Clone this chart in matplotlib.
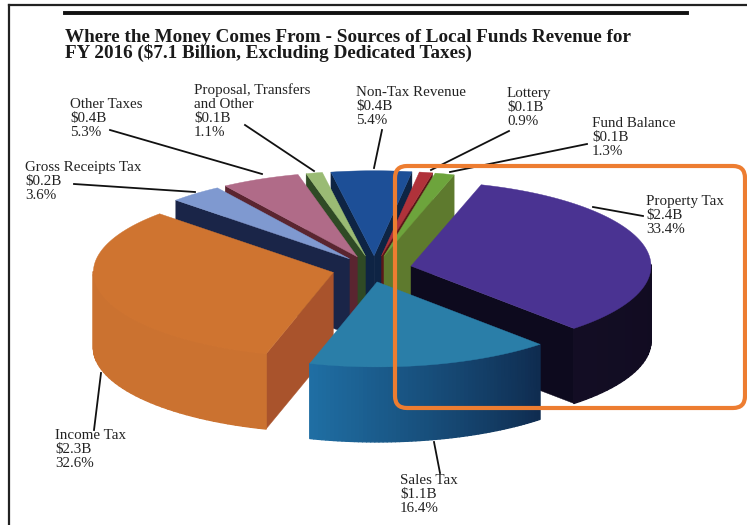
#!/usr/bin/env python3
# exploded pseudo-3D pie, everything in pixel coordinates of the 747x525 picture
import numpy as np
import matplotlib
matplotlib.use('Agg')
import matplotlib.pyplot as plt
from matplotlib.patches import Polygon, FancyBboxPatch

names = ['Property Tax', 'Sales Tax', 'Income Tax', 'Gross Receipts Tax', 'Other Taxes',
         'Proposal, Transfers\nand Other', 'Non-Tax Revenue', 'Lottery', 'Fund Balance']
billions = ['$2.4B', '$1.1B', '$2.3B', '$0.2B', '$0.4B', '$0.1B', '$0.4B', '$0.1B', '$0.1B']
percents = [33.4, 16.4, 32.6, 3.6, 5.3, 1.1, 5.4, 0.9, 1.3]

top_colors = ['#4a3392', '#2a7ea8', '#cf7430', '#7f99d0', '#b06b88', '#9abb74', '#1d4f97', '#b0323a', '#6da43c']
wall_left = ['#130d24', '#1f6ea3', '#cb7230', '#1a2548', '#5a2530', '#2f4a25', '#0e2444', '#5a1818', '#5e7a2e']
wall_right = ['#0e0a1c', '#0f2c50', '#cb7230', '#1a2548', '#5a2530', '#2f4a25', '#0e2444', '#5a1818', '#5e7a2e']
face_colors = ['#0d0a1e', '#12305a', '#a9532c', '#1a2548', '#5a2530', '#2f4a25', '#0e2444', '#5a1818', '#5e7a2e']
nudge_x = [1, -5, -4, 0, -1, 0, 1, 1, 1]  # slices are not quite where the scan's explode puts them

label_xy = [(646, 195), (400, 474), (55, 429), (25, 161), (70, 98),
            (194, 83), (356, 86), (507, 87), (592, 117)]
leaders = [((593, 207), (643, 216)), ((434, 442), (440, 473)), ((101, 373), (94, 430)),
           ((74, 184), (195, 192)), ((110, 130), (262, 174)), ((245, 125), (314, 171)),
           ((382, 130), (374, 168)), ((509, 131), (431, 170)), ((587, 144), (450, 172))]

CX, CY = 373.5, 269.0
RX, RY = 240.0, 85.0
DEPTH = 75.0
EXPLODE = 0.156
START = 73.0


def pt(apex, deg):
    a = np.radians(deg)
    return apex[0] + RX * np.cos(a), apex[1] - RY * np.sin(a)


def mix(c1, c2, t):
    r1 = np.array(matplotlib.colors.to_rgb(c1))
    r2 = np.array(matplotlib.colors.to_rgb(c2))
    return tuple(r1 + (r2 - r1) * t)


def draw_slice(ax, i, a0, a1):
    # a0 is the counter clockwise end, a1 the clockwise end, a0 > a1
    mid = np.radians((a0 + a1) / 2)
    apex = (CX + EXPLODE * RX * np.cos(mid) + nudge_x[i], CY - EXPLODE * RY * np.sin(mid))
    low = (apex[0], apex[1] + DEPTH)

    # radial side faces
    for ang, visible in ((a0, np.cos(np.radians(a0)) < 0), (a1, np.cos(np.radians(a1)) > 0)):
        if visible:
            r = pt(apex, ang)
            ax.add_patch(Polygon([apex, r, (r[0], r[1] + DEPTH), low], fc=face_colors[i], ec=face_colors[i], lw=0.3))

    # outer wall, cut in strips so it can fade
    angs = np.linspace(a0, a1, 61)
    for k in range(60):
        s0, s1 = angs[k], angs[k + 1]
        if np.sin(np.radians((s0 + s1) / 2)) > 0:
            continue
        p0, p1 = pt(apex, s0), pt(apex, s1)
        col = mix(wall_right[i], wall_left[i], k / 59)
        ax.add_patch(Polygon([p0, p1, (p1[0], p1[1] + DEPTH), (p0[0], p0[1] + DEPTH)],
                             fc=col, ec=col, lw=1.0, joinstyle='round'))

    # top surface
    rim = [pt(apex, a) for a in np.linspace(a0, a1, 80)]
    ax.add_patch(Polygon([apex] + rim, fc=top_colors[i], ec=top_colors[i], lw=0.3))


fig = plt.figure(figsize=(7.47, 5.25), dpi=100)
ax = fig.add_axes([0, 0, 1, 1])
ax.set_xlim(0, 747)
ax.set_ylim(525, 0)
ax.axis('off')

# page edges and the rule above the title
ax.plot([9, 747], [5, 5], color='#222222', lw=1.6)
ax.plot([9, 9], [5, 525], color='#222222', lw=1.6)
ax.plot([65, 687], [13, 13], color='#111111', lw=2.8)

ax.text(65, 45.5, 'Where the Money Comes From - Sources of Local Funds Revenue for\n'
        'FY 2016 ($7.1 Billion, Excluding Dedicated Taxes)',
        family='Liberation Serif', fontweight='bold', fontsize=13.8, color='#1a1a1a',
        va='center', ha='left', linespacing=0.87)

# slice angles from the values
edges = [START]
for p in percents:
    edges.append(edges[-1] - p * 3.6)

# painter order, back slices first
order = [6, 5, 7, 8, 4, 3, 0, 2, 1]
for i in order:
    draw_slice(ax, i, edges[i], edges[i + 1])

for i, name in enumerate(names):
    ax.text(label_xy[i][0], label_xy[i][1], name + '\n' + billions[i] + '\n%.1f%%' % percents[i],
            family='Liberation Serif', fontsize=10.8, color='#222222', va='top', ha='left', linespacing=1.1)
    (x0, y0), (x1, y1) = leaders[i]
    ax.plot([x0, x1], [y0, y1], color='#111111', lw=1.3)

# orange highlight box
box = FancyBboxPatch((403, 174), 334, 226, boxstyle='round,pad=8,rounding_size=12',
                     fc='none', ec='#ed7d31', lw=3.0, zorder=5)
ax.add_patch(box)

fig.savefig('out.png', dpi=100)
